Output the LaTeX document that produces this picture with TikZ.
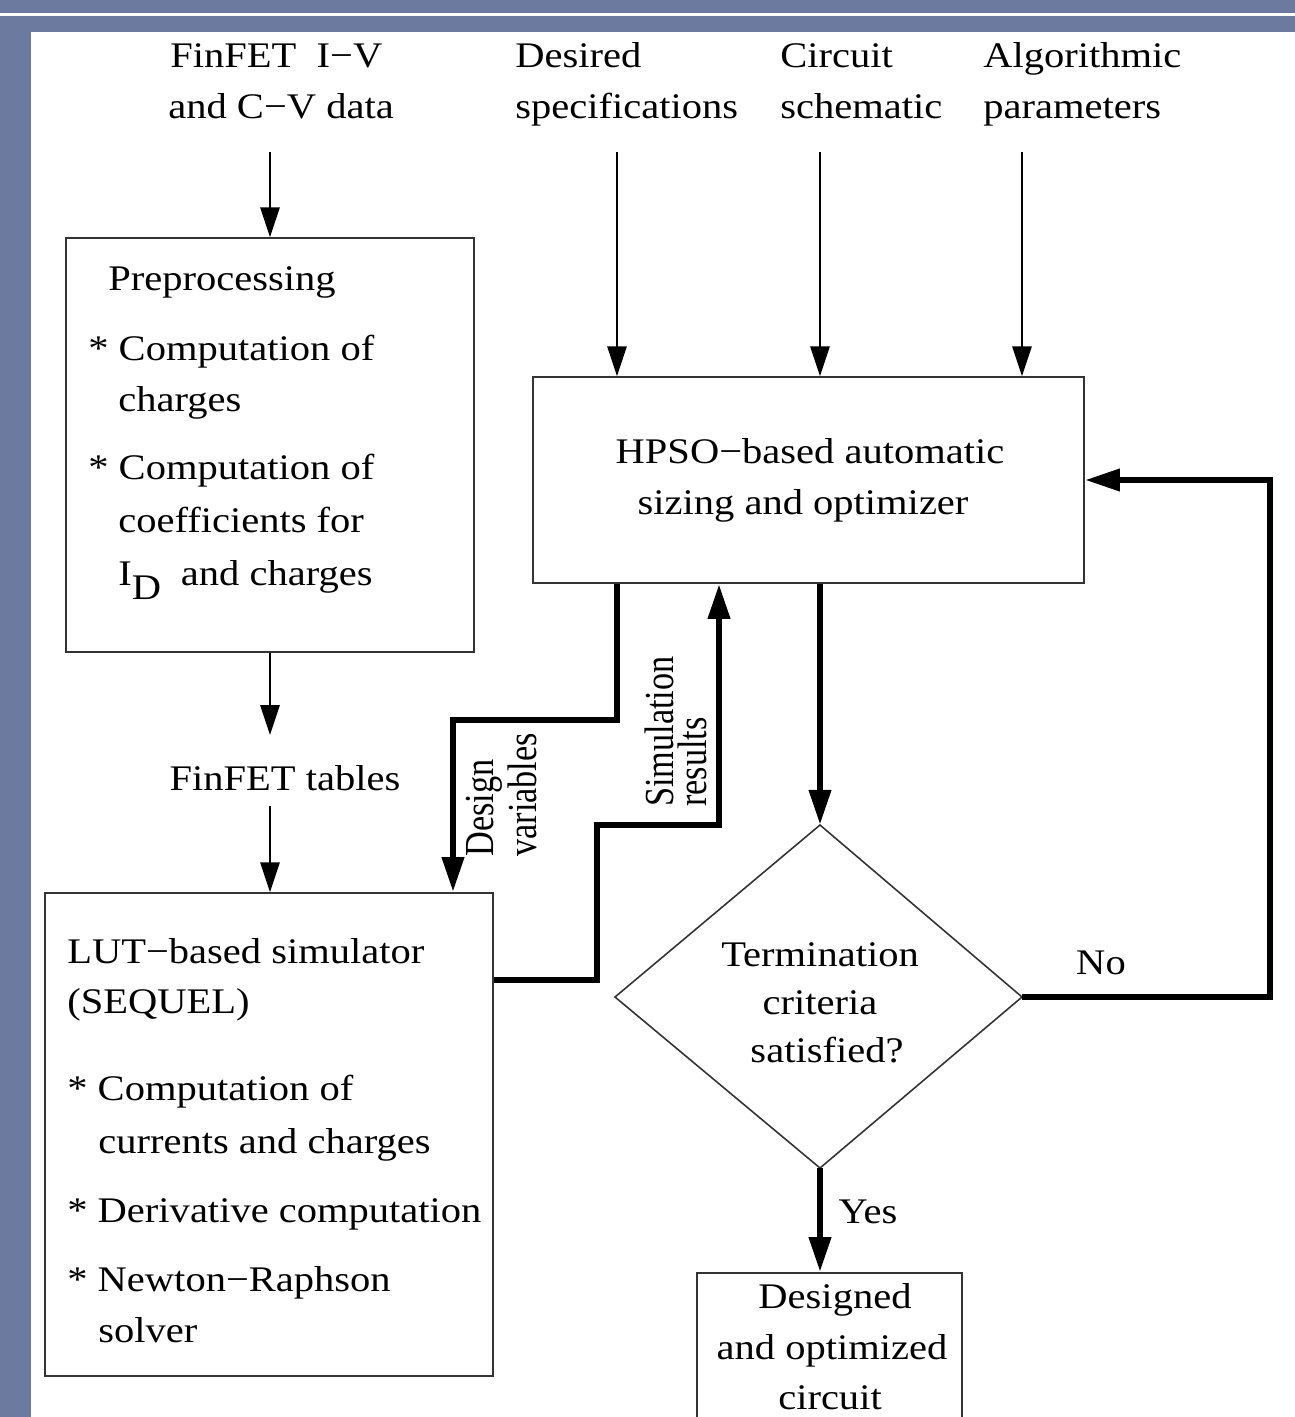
\documentclass[tikz,border=0pt]{standalone}
\usepackage{fontspec}
\setmainfont{Liberation Serif}[FakeStretch=1.125]
\newfontfamily\rotfont{Liberation Serif}[FakeStretch=0.83]
\usetikzlibrary{arrows.meta,fit}
\definecolor{framecol}{RGB}{108,122,160}
\tikzset{
  box/.style={draw=black!80, line width=0.9pt, inner sep=0pt},
  lbl/.style={anchor=base west, inner sep=0pt},
  clbl/.style={anchor=base, inner sep=0pt},
  rlbl/.style={anchor=base west, inner sep=0pt, rotate=90, font=\rotfont\fontsize{23.5}{24}\selectfont},
  thinarr/.style={line width=1.1pt, -{Triangle[length=17pt,width=11pt]}},
  thickarr/.style={line width=3.8pt, -{Triangle[length=20pt,width=12pt]}}
}
\begin{document}
\begin{tikzpicture}[x=0.02cm,y=-0.02cm,font=\fontsize{20.5}{24}\selectfont]
\clip (0,0) rectangle (1295,1417);
\fill[framecol] (0,0) rectangle (1295,32);
\fill[framecol] (0,0) rectangle (31,1417);
\draw[white,line width=1.5pt] (0,14.5) -- (1295,14.5);

\foreach \n/\x/\y/\t in {fa/170/67/{FinFET\ \ I−V}, fb/168/118/{and C−V data},
  da/515/67/Desired, db/515/118/specifications, ca/780/67/Circuit, cb/780/118/schematic,
  aa/983/67/Algorithmic, ab/983/118/parameters} {
  \node[lbl] (top-\n) at (\x,\y) {\t};
}

\node[box, fit={(66,238) (474,652)}] (prep) {};
\foreach \n/\x/\y/\t in {a/108/290/Preprocessing, b/88/360/{* Computation of}, c/118/411/charges,
  d/88/479/{* Computation of}, e/118/532/{coefficients for}, f/118/585/{I\raisebox{-0.4em}{D}\hspace{0.55em}and charges}} {
  \node[lbl] (prep-\n) at (\x,\y) {\t};
}

\node[clbl] (tables) at (285,790) {FinFET tables};

\node[box, fit={(45,893) (493,1376)}] (lut) {};
\foreach \n/\x/\y/\t in {a/67/963/{LUT−based simulator}, b/67/1013/(SEQUEL), c/67/1100/{* Computation of},
  d/98/1153/{currents and charges}, e/67/1222/{* Derivative computation}, f/67/1291/{* Newton−Raphson},
  g/98/1342/solver} {
  \node[lbl] (lut-\n) at (\x,\y) {\t};
}

\node[box, fit={(533,377) (1084,583)}] (hpso) {};
\node[clbl] (hpso-a) at (810,463) {HPSO−based automatic};
\node[clbl] (hpso-b) at (803,514) {sizing and optimizer};

\coordinate (dtop) at (820,825);
\coordinate (dleft) at (615,997);
\coordinate (dright) at (1022,997);
\coordinate (dbot) at (820,1168);
\draw[line width=0.9pt, black!80] (dtop) -- (dright) -- (dbot) -- (dleft) -- cycle;
\node[clbl] (term-a) at (820,966) {Termination};
\node[clbl] (term-b) at (820,1014) {criteria};
\node[clbl] (term-c) at (827,1062) {satisfied?};

\node[box, fit={(697,1273) (962,1440)}] (res) {};
\node[clbl] (res-a) at (835,1308) {Designed};
\node[clbl] (res-b) at (832,1359) {and optimized};
\node[clbl] (res-c) at (830,1409) {circuit};

\draw[thinarr] (270,152) -- (prep.north);
\draw[thinarr] (prep.south) -- (270,735);
\draw[thinarr] (270,806) -- (lut.north -| 270,0);
\foreach \x in {617,820,1022} {
  \draw[thinarr] (\x,152) -- (hpso.north -| \x,0);
}

\draw[thickarr] (hpso.south -| 617,0) -- (617,720) -- (453,720) -- (lut.north -| 453,0);
\draw[thickarr] (lut.east |- 0,980) -- (597,980) -- (597,825) -- (719,825) -- (hpso.south -| 719,0);
\draw[thickarr] (hpso.south -| dtop) -- (dtop);
\draw[thickarr] (dright) -- (1270,997) -- (1270,480) -- (hpso.east |- 0,480);
\draw[thickarr] (dbot) -- (res.north -| dbot);

\node[clbl] (no) at (1101,974) {No};
\node[clbl] (yes) at (868,1223) {Yes};
\node[rlbl] (dv-a) at (493,857) {Design};
\node[rlbl] (dv-b) at (536,857) {variables};
\node[rlbl] (sr-a) at (673,807) {Simulation};
\node[rlbl] (sr-b) at (706,807) {results};
\end{tikzpicture}
\end{document}
